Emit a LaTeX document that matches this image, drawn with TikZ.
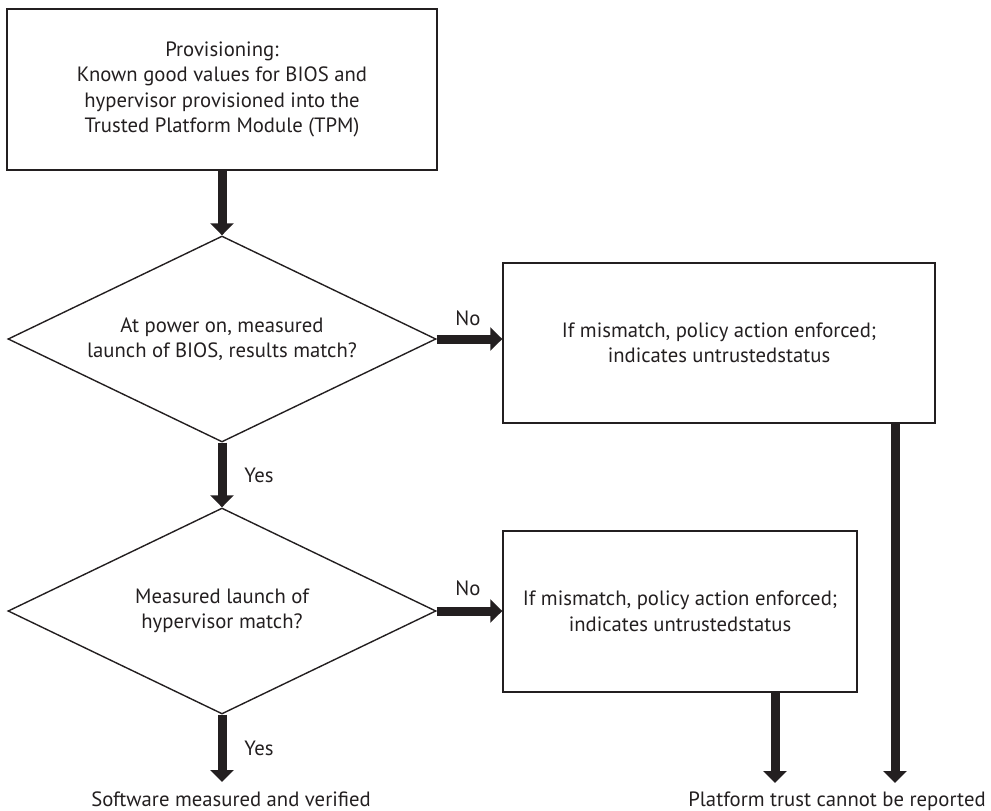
\documentclass[tikz,border=0pt]{standalone}
\usepackage{fontspec}
\setmainfont{PT Sans}
\usetikzlibrary{shapes.geometric,arrows.meta}
\definecolor{ink}{HTML}{231F20}
\begin{document}
\begin{tikzpicture}[x=1pt,y=-1pt,
  every node/.style={text=ink, font=\fontsize{20.7}{25.5}\selectfont},
  box/.style={draw=ink, line width=1.4pt, align=center, inner sep=0pt},
  decision/.style={diamond, draw=ink, line width=1.4pt, align=center, inner sep=0pt,
    aspect=2.078, minimum width=428pt, minimum height=206pt},
  arr/.style={draw=ink, line width=9pt, -{Triangle[width=23pt,length=12pt]}},
  lbl/.style={inner sep=0pt}]
\useasboundingbox (0,0) rectangle (991,811);

\node[box, minimum width=430pt, minimum height=161pt] (prov) at (222,89.5)
  {Provisioning:\\Known good values for BIOS and\\hypervisor provisioned into the\\Trusted Platform Module (TPM)};
\node[decision] (d1) at (222,339) {At power on, measured\\launch of BIOS, results match?};
\node[box, minimum width=432pt, minimum height=160pt] (b1) at (719,343)
  {If mismatch, policy action enforced;\\indicates untrustedstatus};
\node[decision] (d2) at (222,611) {Measured launch of\\hypervisor match?};
\node[box, minimum width=354pt, minimum height=161pt] (b2) at (680,611.5)
  {If mismatch, policy action enforced;\\indicates untrustedstatus};
\node[anchor=base] (sw) at (231,806) {Software measured and verified};
\node[anchor=base] (pt) at (837,806) {Platform trust cannot be reported};
\node[lbl] (no1) at (468,318) {No};
\node[lbl] (no2) at (468,588) {No};
\node[lbl] (yes1) at (259,475) {Yes};
\node[lbl] (yes2) at (259,748) {Yes};
\coordinate (t1) at (895,783);
\coordinate (t2) at (775,783);
\coordinate (t3) at (222,782);

\draw[arr] (prov.south) -- (d1.north);
\draw[arr] (d1.east) -- (d1.east -| b1.west);
\draw[arr] (d1.south) -- (d2.north);
\draw[arr] (d2.east) -- (d2.east -| b2.west);
\draw[arr] (d2.south) -- (t3);
\draw[arr] (b1.south -| t1) -- (t1);
\draw[arr] (b2.south -| t2) -- (t2);
\end{tikzpicture}
\end{document}
